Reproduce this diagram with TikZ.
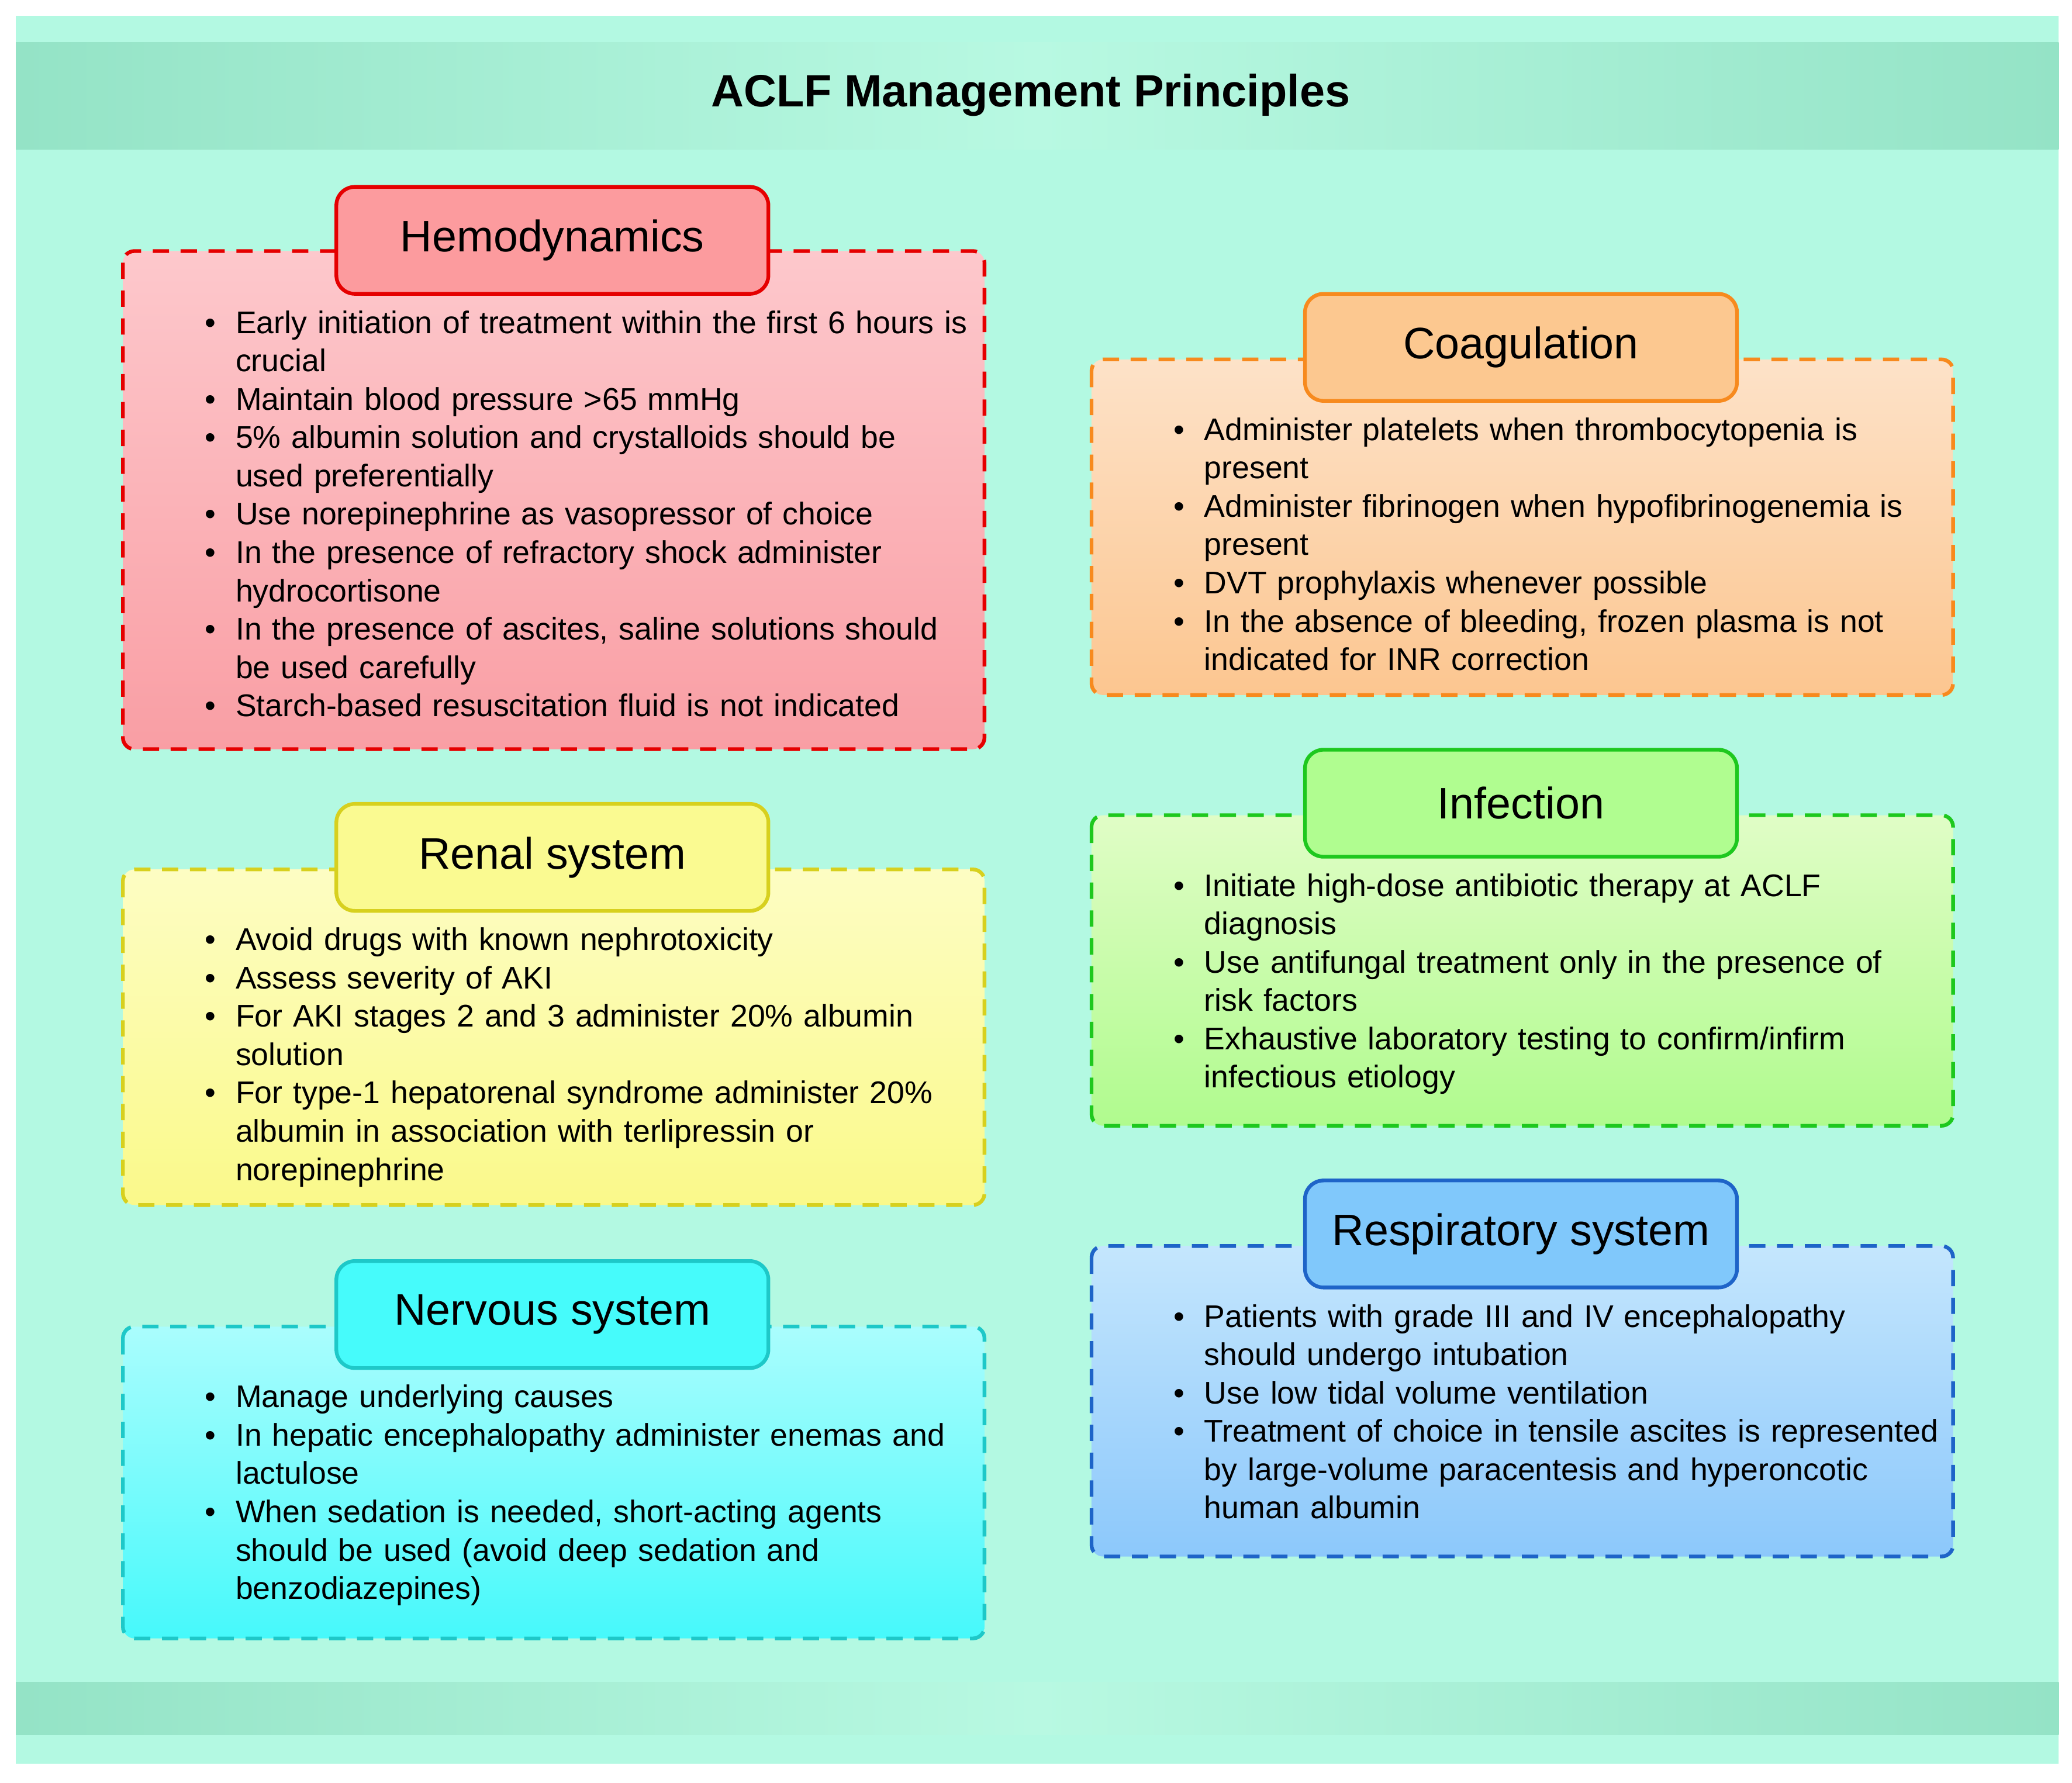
\documentclass[tikz,border=0pt]{standalone}
\usepackage{fontspec}
\setmainfont{Liberation Sans}
\usepackage{enumitem}
\usepackage{tikz}

\definecolor{mint}{HTML}{B3F9E2}
\definecolor{band}{HTML}{94E3C6}
\definecolor{bandlight}{HTML}{B8F9E2}

\tikzset{
  panel/.style={draw, dashed, line width=1.6pt, dash pattern=on 7pt off 5pt,
    rounded corners=5pt, anchor=north west, inner sep=0pt},
  head/.style={draw, line width=1.6pt, rounded corners=8pt, minimum width=6.54cm,
    minimum height=1.62cm, font=\fontsize{19}{22}\selectfont, anchor=north},
  body/.style={anchor=north west, inner sep=0pt, text width=12.6cm, align=left,
    font=\fontsize{13.5}{16.5}\selectfont},
}
\newcommand{\bullets}[1]{\begin{itemize}[leftmargin=0.52cm, labelsep=0.3cm,
  itemsep=0pt, topsep=0pt, parsep=0pt, partopsep=0pt]#1\end{itemize}}

\begin{document}
\begin{tikzpicture}[x=0.02cm, y=-0.02cm]

  \useasboundingbox (0,0) rectangle (1568,1349);
  \fill[white] (0,0) rectangle (1568,1349);
  \fill[mint] (12,12) rectangle (1558,1335);
  \fill[left color=band, right color=band, middle color=bandlight] (12,32) rectangle (1558,113);
  \fill[left color=band, right color=band, middle color=bandlight] (12,1273) rectangle (1558,1313);

  \node (title) at (780,72) {\fontsize{19.5}{23}\selectfont\bfseries ACLF Management Principles};

  % left column
  \path[panel, draw=red!90!black, top color={rgb,255:red,253;green,200;blue,204}, bottom color={rgb,255:red,249;green,158;blue,164}]
    (93,190) rectangle (745,567);
  \node (hemo) [head, draw=red!90!black, fill={rgb,255:red,252;green,155;blue,158}] at (418,140) {Hemodynamics};
  \node (hemotext) [body] at (152,223) {\bullets{
    \item Early initiation of treatment within the first 6 hours is\\crucial
    \item Maintain blood pressure >65 mmHg
    \item 5\% albumin solution and crystalloids should be\\used preferentially
    \item Use norepinephrine as vasopressor of choice
    \item In the presence of refractory shock administer\\hydrocortisone
    \item In the presence of ascites, saline solutions should\\be used carefully
    \item Starch-based resuscitation fluid is not indicated}};

  \path[panel, draw={rgb,255:red,215;green,208;blue,30}, top color={rgb,255:red,253;green,253;blue,195}, bottom color={rgb,255:red,250;green,249;blue,138}]
    (93,658) rectangle (745,912);
  \node (renal) [head, draw={rgb,255:red,215;green,208;blue,30}, fill={rgb,255:red,250;green,250;blue,145}] at (418,607) {Renal system};
  \node (renaltext) [body] at (152,690) {\bullets{
    \item Avoid drugs with known nephrotoxicity
    \item Assess severity of AKI
    \item For AKI stages 2 and 3 administer 20\% albumin\\solution
    \item For type-1 hepatorenal syndrome administer 20\%\\albumin in association with terlipressin or\\norepinephrine}};

  \path[panel, draw={rgb,255:red,30;green,200;blue,200}, top color={rgb,255:red,170;green,253;blue,253}, bottom color={rgb,255:red,70;green,249;blue,251}]
    (93,1004) rectangle (745,1240);
  \node (nerv) [head, draw={rgb,255:red,30;green,200;blue,200}, fill={rgb,255:red,70;green,251;blue,251}] at (418,953) {Nervous system};
  \node (nervtext) [body] at (152,1036) {\bullets{
    \item Manage underlying causes
    \item In hepatic encephalopathy administer enemas and\\lactulose
    \item When sedation is needed, short-acting agents\\should be used (avoid deep sedation and\\benzodiazepines)}};

  % right column
  \path[panel, draw={rgb,255:red,247;green,138;blue,30}, top color={rgb,255:red,253;green,226;blue,200}, bottom color={rgb,255:red,252;green,198;blue,144}]
    (826,272) rectangle (1478,526);
  \node (coag) [head, draw={rgb,255:red,247;green,138;blue,30}, fill={rgb,255:red,252;green,200;blue,144}] at (1151,221) {Coagulation};
  \node (coagtext) [body] at (885,304) {\bullets{
    \item Administer platelets when thrombocytopenia is\\present
    \item Administer fibrinogen when hypofibrinogenemia is\\present
    \item DVT prophylaxis whenever possible
    \item In the absence of bleeding, frozen plasma is not\\indicated for INR correction}};

  \path[panel, draw={rgb,255:red,30;green,200;blue,30}, top color={rgb,255:red,224;green,253;blue,198}, bottom color={rgb,255:red,176;green,251;blue,142}]
    (826,617) rectangle (1478,852);
  \node (infec) [head, draw={rgb,255:red,30;green,200;blue,30}, fill={rgb,255:red,176;green,253;blue,144}] at (1151,566) {Infection};
  \node (infectext) [body] at (885,649) {\bullets{
    \item Initiate high-dose antibiotic therapy at ACLF\\diagnosis
    \item Use antifungal treatment only in the presence of\\risk factors
    \item Exhaustive laboratory testing to confirm/infirm\\infectious etiology}};

  \path[panel, draw={rgb,255:red,30;green,100;blue,200}, top color={rgb,255:red,196;green,230;blue,253}, bottom color={rgb,255:red,140;green,200;blue,251}]
    (826,943) rectangle (1478,1178);
  \node (resp) [head, draw={rgb,255:red,30;green,100;blue,200}, fill={rgb,255:red,128;green,200;blue,251}] at (1151,892) {Respiratory system};
  \node (resptext) [body] at (885,975) {\bullets{
    \item Patients with grade III and IV encephalopathy\\should undergo intubation
    \item Use low tidal volume ventilation
    \item Treatment of choice in tensile ascites is represented\\by large-volume paracentesis and hyperoncotic\\human albumin}};

\end{tikzpicture}
\end{document}
